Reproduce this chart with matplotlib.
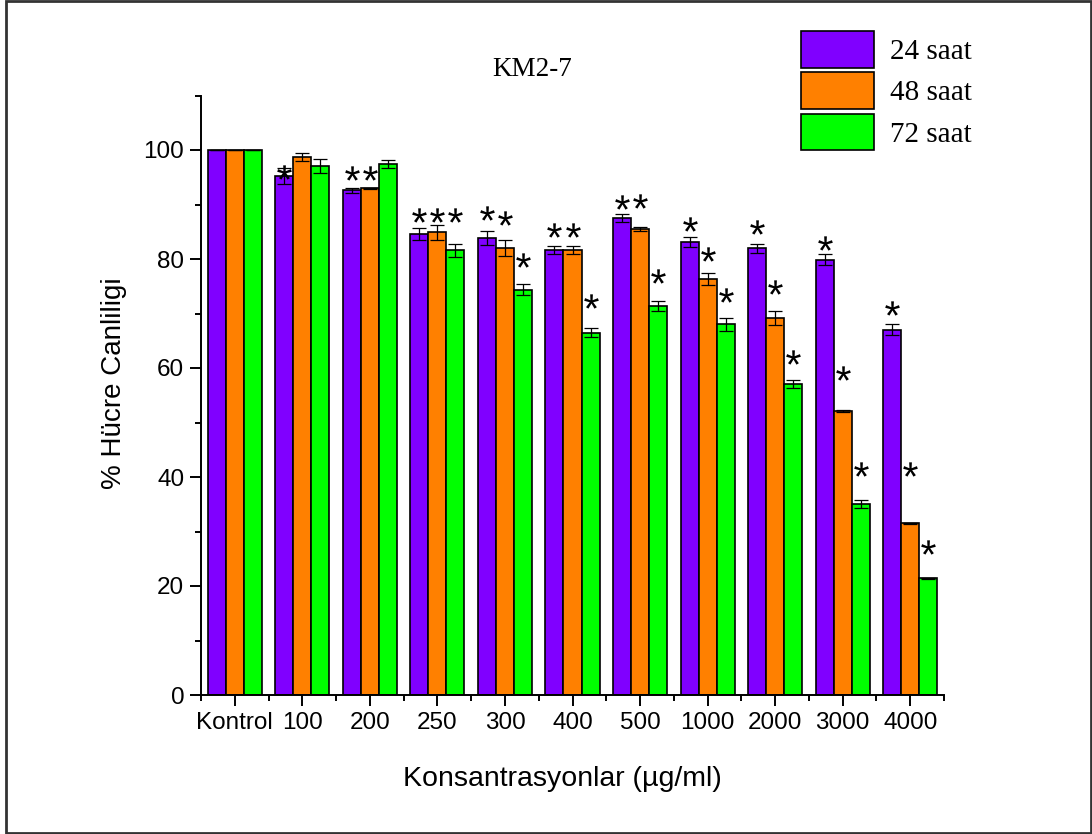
import matplotlib
matplotlib.use("Agg")
import matplotlib.pyplot as plt
import numpy as np
from matplotlib.patches import Rectangle
from matplotlib.path import Path
from matplotlib.textpath import TextPath
from matplotlib.font_manager import FontProperties
from matplotlib.ticker import MultipleLocator

# data
concs = ["Kontrol", "100", "200", "250", "300", "400", "500", "1000", "2000", "3000", "4000"]
series = ["24 saat", "48 saat", "72 saat"]
h24 = [100, 95.2, 92.6, 84.5, 83.8, 81.6, 87.5, 83.1, 82.0, 79.9, 67.0]
h48 = [100, 98.7, 93.0, 84.9, 82.0, 81.6, 85.5, 76.4, 69.1, 52.1, 31.5]
h72 = [100, 97.0, 97.4, 81.6, 74.4, 66.5, 71.4, 68.0, 57.1, 35.0, 21.4]
err24 = [0, 1.5, 0.45, 1.1, 1.3, 0.7, 0.77, 0.9, 0.83, 1.0, 1.0]
err48 = [0, 0.7, 0.1, 1.4, 1.5, 0.7, 0.43, 1.1, 1.3, 0.2, 0.1]
err72 = [0, 1.3, 0.75, 1.2, 1.0, 0.85, 0.9, 1.2, 0.7, 0.7, 0.1]
# heights of the significance asterisks (nan = none)
nan = np.nan
star24 = [nan, 96.0, 95.8, 88.1, 88.4, 85.3, 90.5, 86.5, 85.9, 82.9, 71.0]
star48 = [nan, nan, 95.8, 88.1, 87.6, 85.3, 90.7, 81.0, 74.9, 59.0, 41.4]
star72 = [nan, nan, nan, 88.0, 79.8, 72.3, 76.8, 73.4, 62.1, 41.4, 27.2]

colors = ["#8000FF", "#FF8000", "#00FF00"]


def glyph_marker(ch, family="Liberation Sans"):
    # path of a glyph, centred on its own extents, usable as a marker
    tp = TextPath((0, 0), ch, prop=FontProperties(family=family))
    v = tp.vertices.copy()
    codes = tp.codes
    ext = tp.get_extents()
    v[:, 0] -= (ext.x0 + ext.x1) / 2
    v[:, 1] -= (ext.y0 + ext.y1) / 2
    start = v[0].copy()
    for k, cd in enumerate(codes):
        if cd == Path.MOVETO:
            start = v[k].copy()
        elif cd == Path.CLOSEPOLY:
            v[k] = start
    return Path(v, codes)


star_marker = glyph_marker("*")

fig = plt.figure(figsize=(10.92, 8.34), dpi=100)
ax = fig.add_axes([201 / 1092, 1 - 695 / 834, 743 / 1092, 599.5 / 834])

x = np.arange(len(concs))
w = 0.267
for i, (h, e, s, c, lab) in enumerate(zip([h24, h48, h72], [err24, err48, err72],
                                         [star24, star48, star72], colors, series)):
    xs = x + (i - 1) * w
    ax.bar(xs, h, width=w, color=c, edgecolor="black", linewidth=1.2, label=lab, zorder=2)
    ax.errorbar(xs, h, yerr=e, fmt="none", ecolor="black", elinewidth=0.9,
                capsize=5, capthick=0.9, zorder=3)
    ax.plot(xs, s, linestyle="none", marker=star_marker, markersize=10.5,
            color="black", markeredgewidth=0, zorder=4)

ax.set_xlim(-0.5, 10.5)
ax.set_ylim(0, 110)
ax.set_xticks(x)
ax.set_xticklabels(concs)
ax.xaxis.set_minor_locator(MultipleLocator(1, offset=0.5))
ax.set_yticks(np.arange(0, 101, 20))
ax.yaxis.set_minor_locator(MultipleLocator(10))

for sp in ["top", "right"]:
    ax.spines[sp].set_visible(False)
for sp in ["left", "bottom"]:
    ax.spines[sp].set_linewidth(1.4)

ax.tick_params(which="major", direction="out", length=8, width=1.4,
               labelsize=17.5, pad=4)
ax.tick_params(which="minor", direction="out", length=4.5, width=1.4)
for t in ax.get_xticklabels() + ax.get_yticklabels():
    t.set_fontfamily("Liberation Sans")

ax.set_xlabel("Konsantrasyonlar (\u00b5g/ml)", fontsize=20.5, family="Liberation Sans")
ax.xaxis.set_label_coords(0.486, -0.118)
ax.set_ylabel("% H\u00fccre Canliligi", fontsize=20, family="Liberation Sans")
ax.yaxis.set_label_coords(-0.099, 0.52)

fig.text(532 / 1092, 1 - 70 / 834, "KM2-7", fontsize=19.5, family="Liberation Serif",
         ha="center", va="center")

leg = fig.legend(loc="upper left", bbox_to_anchor=(801 / 1092, 1 - 31 / 834),
                 frameon=False, prop={"family": "Liberation Serif", "size": 21},
                 handlelength=2.5, handleheight=1.57, labelspacing=0.15,
                 handletextpad=0.55, borderpad=0, borderaxespad=0)

# frame around the whole picture
fig.patches.append(Rectangle((6 / 1092, 1 / 834), 1 - 7 / 1092, 1 - 2 / 834,
                             transform=fig.transFigure, fill=False,
                             edgecolor="#333333", linewidth=2))

fig.savefig("out.png", dpi=100, facecolor="white")
